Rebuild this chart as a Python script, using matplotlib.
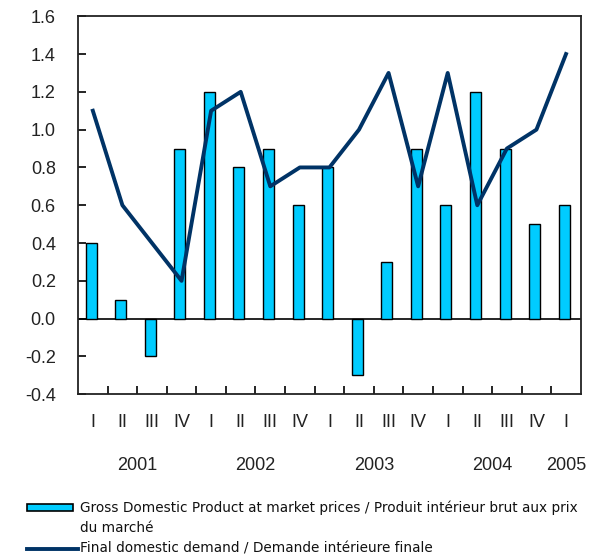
import matplotlib
matplotlib.use("Agg")
import matplotlib.pyplot as plt
import matplotlib.transforms as mtransforms
from matplotlib.patches import Rectangle
from matplotlib.lines import Line2D
import numpy as np

quarters = ["I", "II", "III", "IV", "I", "II", "III", "IV", "I", "II", "III", "IV",
            "I", "II", "III", "IV", "I"]
years = ["2001", "2002", "2003", "2004", "2005"]
year_pos = [1.5, 5.5, 9.5, 13.5, 16.0]
gdp = [0.4, 0.1, -0.2, 0.9, 1.2, 0.8, 0.9, 0.6, 0.8, -0.3, 0.3, 0.9, 0.6, 1.2, 0.9, 0.5, 0.6]
fdd = [1.1, 0.6, 0.4, 0.2, 1.1, 1.2, 0.7, 0.8, 0.8, 1.0, 1.3, 0.7, 1.3, 0.6, 0.9, 1.0, 1.4]
gdp_label = "Gross Domestic Product at market prices / Produit intérieur brut aux prix\ndu marché"
fdd_label = "Final domestic demand / Demande intérieure finale"

bar_color = "#00CCFF"
line_color = "#003366"

W, H = 605, 560
fig = plt.figure(figsize=(W / 100, H / 100), dpi=100)
ax = fig.add_axes([0.129, 0.296, 0.831, 0.675])
x = np.arange(len(gdp))
ax.bar(x - 0.06, gdp, width=0.37, color=bar_color, edgecolor="black", linewidth=1.0, zorder=2)
ax.plot(x, fdd, color=line_color, linewidth=2.8, zorder=3)
ax.axhline(0, color="black", linewidth=1.2, zorder=1)

ax.set_xlim(-0.5, len(gdp) - 0.5)
ax.set_ylim(-0.4, 1.6)
yt = np.arange(-0.4, 1.61, 0.2)
ax.set_yticks(yt)
ax.set_yticklabels([f"{v:.1f}" for v in yt])
ax.set_xticks(x)
ax.set_xticklabels(quarters)
ax.set_xticks(np.arange(0.5, len(gdp) - 1, 1.0), minor=True)
ax.tick_params(axis="x", which="major", length=0, pad=14, labelsize=13, labelcolor="#222222")
ax.tick_params(axis="x", which="minor", direction="in", length=6, width=1.2)
ax.tick_params(axis="y", direction="in", length=6, width=1.2, labelsize=13,
               labelcolor="#222222", pad=16)
for lab in ax.get_xticklabels() + ax.get_yticklabels():
    lab.set_fontfamily("Liberation Sans")
for s in ax.spines.values():
    s.set_linewidth(1.3)
    s.set_color("#222222")

trans = mtransforms.blended_transform_factory(ax.transData, fig.transFigure)
for yr, p in zip(years, year_pos):
    ax.text(p, 1 - 466 / H, yr, transform=trans, ha="center", va="center",
            fontsize=13, fontfamily="Liberation Sans", color="#222222")

# legend drawn manually in figure pixel coordinates
def fx(px):
    return px / W

def fy(py):
    return 1 - py / H

fig.patches.append(Rectangle((fx(27), fy(510.5)), fx(73) - fx(27), 7 / H,
                             facecolor=bar_color, edgecolor="black", linewidth=1.2,
                             transform=fig.transFigure, figure=fig))
fig.lines.append(Line2D([fx(27), fx(78)], [fy(549), fy(549)], color=line_color,
                        linewidth=2.8, transform=fig.transFigure, figure=fig))
leg_font = {"family": "DejaVu Sans", "size": 9.8, "color": "#111111"}
gdp_lines = gdp_label.split("\n")
for i, line in enumerate(gdp_lines):
    fig.text(fx(80), fy(507.5 + 20 * i), line, ha="left", va="center", **leg_font)
fig.text(fx(80), fy(548.5), fdd_label, ha="left", va="center", **leg_font)

fig.savefig("out.png", dpi=100)
